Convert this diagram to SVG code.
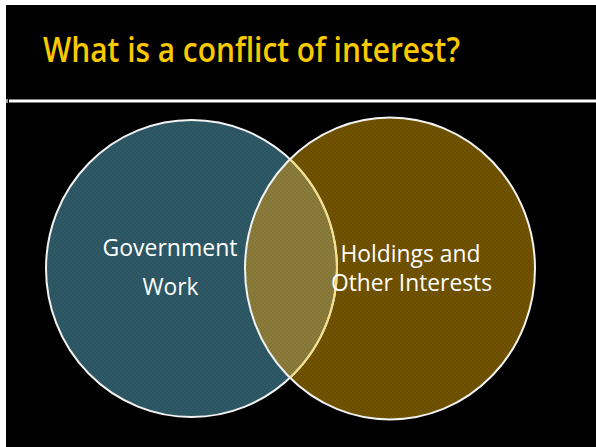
<svg xmlns="http://www.w3.org/2000/svg" width="596" height="447" viewBox="0 0 596 447">
  <style>
    .title { font-family: "Open Sans", "Liberation Sans", sans-serif; font-weight: 600; font-size: 34px; fill: #F9C900; }
    .label { font-family: "Open Sans", "Liberation Sans", sans-serif; font-size: 23px; fill: #FFFFFF; }
    .ring { fill: none; stroke: #F2F2F2; stroke-width: 2; }
  </style>
  <defs>
    <!-- fine checker texture laid over the circle fills -->
    <pattern id="weave" width="4" height="4" patternUnits="userSpaceOnUse">
      <rect x="0" y="0" width="2" height="2" fill="#000" fill-opacity="0.07"/>
      <rect x="2" y="2" width="2" height="2" fill="#000" fill-opacity="0.07"/>
    </pattern>
    <clipPath id="clipLeft">
      <ellipse cx="191.5" cy="268.5" rx="145.5" ry="148.5"/>
    </clipPath>
  </defs>

  <!-- slide background -->
  <rect x="0" y="0" width="596" height="447" fill="#FFFFFF"/>
  <rect x="6" y="5" width="590" height="442" fill="#000000"/>
  <rect x="9" y="99.5" width="587" height="3" fill="#FFFFFF"/>
  <rect x="6" y="99" width="2" height="4" fill="#9A9A9A"/>

  <text class="title" x="43" y="62" textLength="417" lengthAdjust="spacingAndGlyphs">What is a conflict of interest?</text>

  <g id="government-work">
    <ellipse cx="191.5" cy="268.5" rx="145.5" ry="148.5" fill="#2E5A67"/>
    <ellipse cx="191.5" cy="268.5" rx="145.5" ry="148.5" fill="url(#weave)"/>
  </g>

  <g id="holdings">
    <ellipse cx="390" cy="268.5" rx="145" ry="151" fill="#715300"/>
    <ellipse cx="390" cy="268.5" rx="145" ry="151" fill="url(#weave)"/>
  </g>

  <g id="overlap" clip-path="url(#clipLeft)">
    <ellipse cx="390" cy="268.5" rx="145" ry="151" fill="#8C7D3A"/>
    <ellipse cx="390" cy="268.5" rx="145" ry="151" fill="url(#weave)"/>
  </g>

  <!-- outlines; the left circle's edge inside the overlap is tinted pale yellow -->
  <ellipse class="ring" cx="191.5" cy="268.5" rx="145.5" ry="148.5"/>
  <ellipse class="ring" cx="390" cy="268.5" rx="145" ry="151"/>
  <path d="M 290.5 159.7 A 145.5 148.5 0 0 1 290.5 377.3" fill="none" stroke="#F3DE8C" stroke-width="2"/>

  <g id="labels">
    <text class="label" x="170" y="256" text-anchor="middle" textLength="135" lengthAdjust="spacingAndGlyphs">Government</text>
    <text class="label" x="170.5" y="295" text-anchor="middle" textLength="56" lengthAdjust="spacingAndGlyphs">Work</text>
    <text class="label" x="410.5" y="261.5" text-anchor="middle" textLength="140" lengthAdjust="spacingAndGlyphs">Holdings and</text>
    <text class="label" x="411.5" y="291" text-anchor="middle" textLength="161" lengthAdjust="spacingAndGlyphs">Other Interests</text>
  </g>
</svg>
